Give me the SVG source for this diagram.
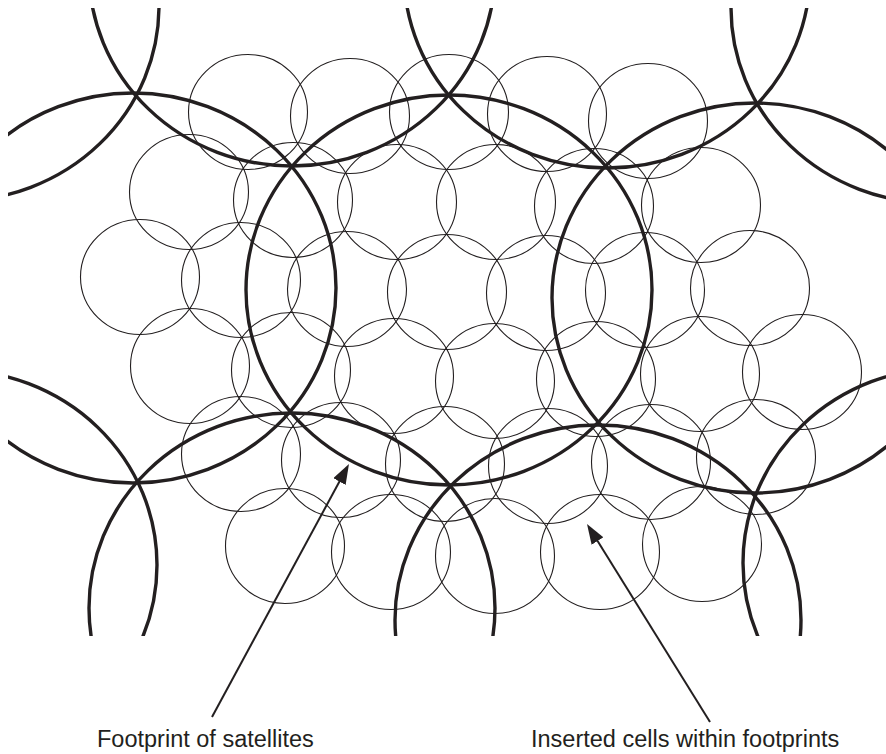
<svg xmlns="http://www.w3.org/2000/svg" width="886" height="754" viewBox="0 0 886 754">
<style>
.fp{fill:none;stroke:#231f20;stroke-width:3.4}
.cell{fill:none;stroke:#231f20;stroke-width:1.1}
.lbl{font-family:"Liberation Sans",Arial,Helvetica,sans-serif;font-size:23.5px;fill:#231f20}
.arr{stroke:#231f20;stroke-width:2;fill:none}
</style>
<defs>
<clipPath id="clip"><rect x="8" y="8" width="878" height="628"/></clipPath>
<marker id="ah" viewBox="0 0 20 14" refX="2" refY="7" markerWidth="20" markerHeight="14" markerUnits="userSpaceOnUse" orient="auto">
<path d="M0,0 L20,7 L0,14 z" fill="#231f20"/>
</marker>
</defs>
<rect width="886" height="754" fill="#fff"/>
<g id="cells">
<ellipse class="cell" cx="248" cy="112" rx="59.5" ry="57.5"/>
<ellipse class="cell" cx="350" cy="116" rx="59.5" ry="57.5"/>
<ellipse class="cell" cx="449" cy="112" rx="59.5" ry="57.5"/>
<ellipse class="cell" cx="547" cy="114" rx="59.5" ry="57.5"/>
<ellipse class="cell" cx="648" cy="121" rx="59.5" ry="57.5"/>
<ellipse class="cell" cx="189" cy="192" rx="59.5" ry="57.5"/>
<ellipse class="cell" cx="293" cy="200" rx="59.5" ry="57.5"/>
<ellipse class="cell" cx="397" cy="202" rx="59.5" ry="57.5"/>
<ellipse class="cell" cx="496" cy="202" rx="59.5" ry="57.5"/>
<ellipse class="cell" cx="594" cy="206" rx="59.5" ry="57.5"/>
<ellipse class="cell" cx="701" cy="205" rx="59.5" ry="57.5"/>
<ellipse class="cell" cx="140" cy="277" rx="59.5" ry="57.5"/>
<ellipse class="cell" cx="241" cy="280" rx="59.5" ry="57.5"/>
<ellipse class="cell" cx="347" cy="289" rx="59.5" ry="57.5"/>
<ellipse class="cell" cx="447" cy="292" rx="59.5" ry="57.5"/>
<ellipse class="cell" cx="546" cy="293" rx="59.5" ry="57.5"/>
<ellipse class="cell" cx="645" cy="290" rx="59.5" ry="57.5"/>
<ellipse class="cell" cx="750" cy="288" rx="59.5" ry="57.5"/>
<ellipse class="cell" cx="190" cy="366" rx="59.5" ry="57.5"/>
<ellipse class="cell" cx="291" cy="370" rx="59.5" ry="57.5"/>
<ellipse class="cell" cx="394" cy="376" rx="59.5" ry="57.5"/>
<ellipse class="cell" cx="495" cy="381" rx="59.5" ry="57.5"/>
<ellipse class="cell" cx="596" cy="379" rx="59.5" ry="57.5"/>
<ellipse class="cell" cx="700" cy="374" rx="59.5" ry="57.5"/>
<ellipse class="cell" cx="802" cy="372" rx="59.5" ry="57.5"/>
<ellipse class="cell" cx="241" cy="454" rx="59.5" ry="57.5"/>
<ellipse class="cell" cx="341" cy="460" rx="59.5" ry="57.5"/>
<ellipse class="cell" cx="445" cy="464" rx="59.5" ry="57.5"/>
<ellipse class="cell" cx="548" cy="466" rx="59.5" ry="57.5"/>
<ellipse class="cell" cx="651" cy="462" rx="59.5" ry="57.5"/>
<ellipse class="cell" cx="756" cy="457" rx="59.5" ry="57.5"/>
<ellipse class="cell" cx="285" cy="546" rx="59.5" ry="57.5"/>
<ellipse class="cell" cx="391" cy="552" rx="59.5" ry="57.5"/>
<ellipse class="cell" cx="495" cy="556" rx="59.5" ry="57.5"/>
<ellipse class="cell" cx="600" cy="552" rx="59.5" ry="57.5"/>
<ellipse class="cell" cx="702" cy="544" rx="59.5" ry="57.5"/>
</g>
<g id="footprints" clip-path="url(#clip)">
<ellipse class="fp" cx="-44" cy="6" rx="203" ry="195"/>
<ellipse class="fp" cx="292" cy="-29" rx="203" ry="195"/>
<ellipse class="fp" cx="607" cy="-27" rx="203" ry="195"/>
<ellipse class="fp" cx="934" cy="8" rx="203" ry="195"/>
<ellipse class="fp" cx="133" cy="288" rx="203" ry="195"/>
<ellipse class="fp" cx="449" cy="290" rx="203" ry="195"/>
<ellipse class="fp" cx="755" cy="298" rx="203" ry="195"/>
<ellipse class="fp" cx="-46" cy="565" rx="203" ry="195"/>
<ellipse class="fp" cx="292" cy="608" rx="203" ry="195"/>
<ellipse class="fp" cx="598" cy="620" rx="203" ry="195"/>
<ellipse class="fp" cx="946" cy="563" rx="203" ry="195"/>
</g>
<g id="connectors">
<line class="arr" x1="212" y1="717" x2="340.4" y2="479.8" marker-end="url(#ah)"/>
<line class="arr" x1="710" y1="722" x2="596.5" y2="539.3" marker-end="url(#ah)"/>
</g>
<g id="labels">
<text class="lbl" x="97" y="747">Footprint of satellites</text>
<text class="lbl" x="531" y="747">Inserted cells within footprints</text>
</g>
</svg>
